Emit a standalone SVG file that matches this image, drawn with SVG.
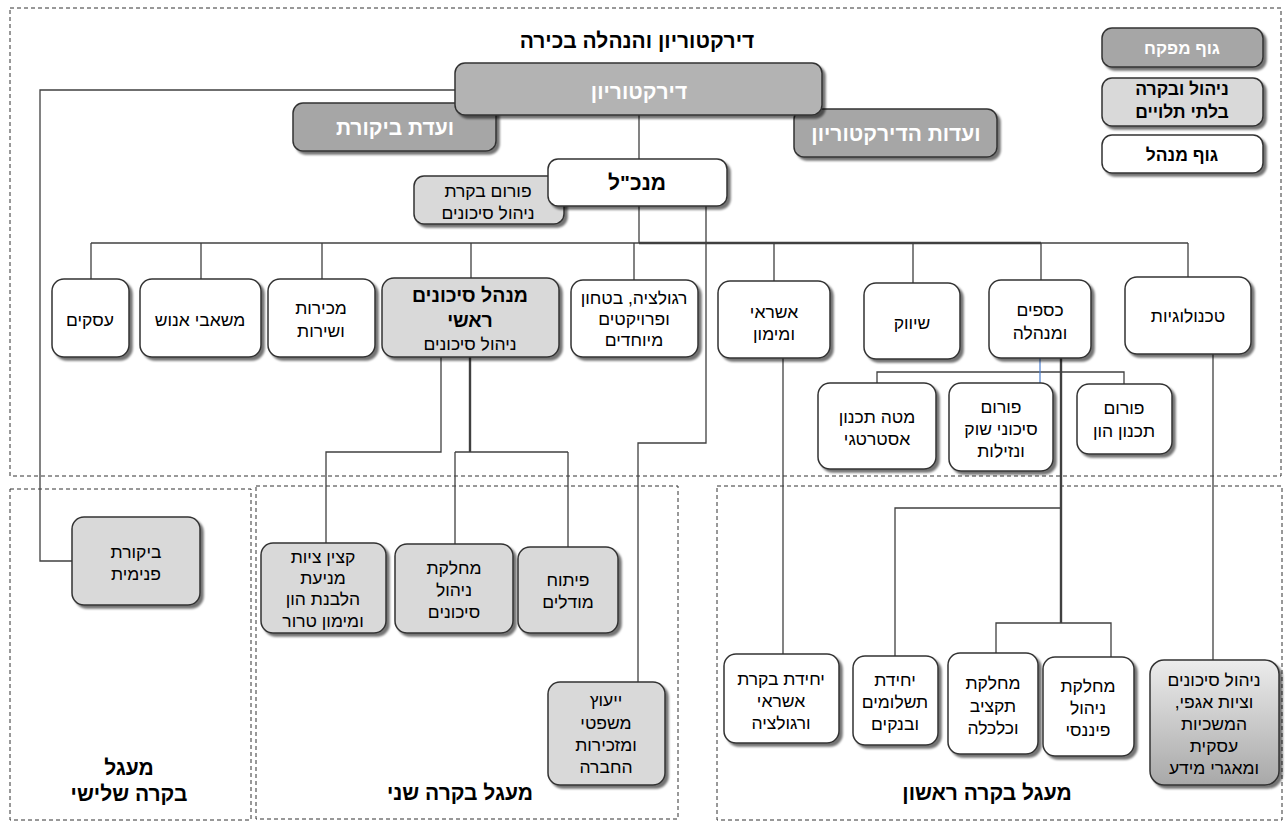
<svg xmlns="http://www.w3.org/2000/svg" width="1286" height="822" viewBox="0 0 1286 822">
<style>
text{font-family:"Liberation Sans",Arial,"Noto Sans",sans-serif;text-anchor:middle;direction:rtl;unicode-bidi:embed;fill:#000;}
.t{font-size:17.5px;}
.b{font-size:21px;font-weight:bold;}
.bs{font-size:19.5px;font-weight:bold;}
.bw{font-size:21px;font-weight:bold;fill:#fff;}
.lg{font-size:17.5px;font-weight:bold;}
.lgw{font-size:17px;font-weight:bold;fill:#fff;}
.area{fill:none;stroke:#333;stroke-width:1;stroke-dasharray:4 3;}
.box{stroke:#333;stroke-width:1.5;filter:url(#sh);}
.wh{fill:#fff;}
.lt{fill:#d9d9d9;}
.dk{fill:#a6a6a6;}
.dk2{fill:#b3b3b3;}
.gr{fill:url(#grad);}
.c{fill:none;stroke:#404040;stroke-width:1.3;}
.ck{fill:none;stroke:#404040;stroke-width:2.4;}
.cb{fill:none;stroke:#4a7fd0;stroke-width:1.2;}
</style>
<defs>
<filter id="sh" x="-10%" y="-10%" width="130%" height="130%">
<feDropShadow dx="3" dy="3" stdDeviation="1.2" flood-color="#000" flood-opacity="0.55"/>
</filter>
<linearGradient id="grad" x1="0" y1="0" x2="0" y2="1">
<stop offset="0" stop-color="#ececec"/>
<stop offset="1" stop-color="#a8a8a8"/>
</linearGradient>
</defs>
<rect width="1286" height="822" fill="#fff"/>

<g id="areas">
<rect class="area" x="10" y="8" width="1271" height="468"/>
<rect class="area" x="10" y="489" width="241" height="331"/>
<rect class="area" x="256" y="486" width="422" height="333"/>
<rect class="area" x="717" y="486" width="565" height="334"/>
<text class="b" x="637" y="48">דירקטוריון והנהלה בכירה</text>
<text class="b" x="129" y="775">מעגל</text>
<text class="b" x="129" y="801">בקרה שלישי</text>
<text class="b" x="460" y="800">מעגל בקרה שני</text>
<text class="b" x="987" y="800">מעגל בקרה ראשון</text>
</g>

<g id="connectors">
<path class="c" d="M639 115 V159"/>
<path class="c" d="M639 206 V243"/>
<path class="c" d="M91 243 H1188"/>
<path class="ck" d="M639 243 H1041"/>
<path class="c" d="M91 243 V279 M201 243 V279 M322 243 V279 M471 243 V278 M634 243 V280 M774 243 V281 M913 243 V283 M1041 243 V280 M1188 243 V277"/>
<path class="c" d="M455 90 H40 V561 H72"/>
<path class="c" d="M706 206 V443 H638 V682"/>
<path class="c" d="M441 357 V452 H326 V543"/>
<path class="ck" d="M470 357 V452"/>
<path class="c" d="M455 452 H568 M455 452 V544 M568 452 V547"/>
<path class="c" d="M783 358 V654"/>
<path class="c" d="M877 383 V372 H1124 V384"/>
<path class="cb" d="M1040 358 V383"/>
<path class="ck" d="M1061 358 V623"/>
<path class="c" d="M1061 508 H895 V656"/>
<path class="c" d="M996 653 V623 H1111 V657"/>
<path class="c" d="M1213 354 V660"/>
</g>

<g id="legend-supervisory">
<rect class="box dk" x="1102" y="28" width="161" height="39" rx="10"/>
<text class="lgw" x="1182" y="54">גוף מפקח</text>
</g>
<g id="legend-independent">
<rect class="box lt" x="1102" y="78" width="161" height="48" rx="10"/>
<text class="lg" x="1182" y="95">ניהול ובקרה</text>
<text class="lg" x="1182" y="118">בלתי תלויים</text>
</g>
<g id="legend-managing">
<rect class="box wh" x="1102" y="135" width="161" height="38" rx="10"/>
<text class="lg" x="1182" y="161">גוף מנהל</text>
</g>

<g id="audit-committee">
<rect class="box dk" x="293" y="103" width="203" height="48" rx="10"/>
<text class="bw" x="395" y="135">ועדת ביקורת</text>
</g>
<g id="board-committees">
<rect class="box dk" x="794" y="109" width="203" height="48" rx="10"/>
<text class="bw" x="896" y="141">ועדות הדירקטוריון</text>
</g>
<g id="board">
<rect class="box dk2" x="455" y="63" width="367" height="52" rx="10"/>
<text class="bw" x="639" y="99">דירקטוריון</text>
</g>
<g id="risk-forum">
<rect class="box lt" x="414" y="176" width="150" height="48" rx="10"/>
<text class="t" x="488" y="197">פורום בקרת</text>
<text class="t" x="488" y="219">ניהול סיכונים</text>
</g>
<g id="ceo">
<rect class="box wh" x="548" y="159" width="179" height="47" rx="10"/>
<text class="b" x="637" y="190">מנכ"ל</text>
</g>

<g id="business">
<rect class="box wh" x="52" y="279" width="77" height="78" rx="12"/>
<text class="t" x="90" y="326">עסקים</text>
</g>
<g id="hr">
<rect class="box wh" x="140" y="279" width="121" height="78" rx="12"/>
<text class="t" x="200" y="326">משאבי אנוש</text>
</g>
<g id="sales">
<rect class="box wh" x="268" y="279" width="107" height="78" rx="12"/>
<text class="t" x="321" y="314">מכירות</text>
<text class="t" x="321" y="337">ושירות</text>
</g>
<g id="cro">
<rect class="box lt" x="382" y="278" width="177" height="79" rx="12"/>
<text class="bs" x="470" y="302">מנהל סיכונים</text>
<text class="bs" x="470" y="327">ראשי</text>
<text class="t" x="470" y="350">ניהול סיכונים</text>
</g>
<g id="regulation">
<rect class="box wh" x="571" y="280" width="127" height="77" rx="12"/>
<text class="t" x="634" y="304">רגולציה, בטחון</text>
<text class="t" x="634" y="325">ופרויקטים</text>
<text class="t" x="634" y="346">מיוחדים</text>
</g>
<g id="credit">
<rect class="box wh" x="718" y="281" width="112" height="77" rx="12"/>
<text class="t" x="774" y="318">אשראי</text>
<text class="t" x="774" y="340">ומימון</text>
</g>
<g id="marketing">
<rect class="box wh" x="864" y="283" width="96" height="76" rx="12"/>
<text class="t" x="912" y="329">שיווק</text>
</g>
<g id="finance">
<rect class="box wh" x="989" y="280" width="102" height="78" rx="12"/>
<text class="t" x="1040" y="316">כספים</text>
<text class="t" x="1040" y="339">ומנהלה</text>
</g>
<g id="technology">
<rect class="box wh" x="1125" y="277" width="126" height="77" rx="12"/>
<text class="t" x="1188" y="322">טכנולוגיות</text>
</g>

<g id="strategy">
<rect class="box wh" x="818" y="383" width="118" height="86" rx="12"/>
<text class="t" x="877" y="423">מטה תכנון</text>
<text class="t" x="877" y="445">אסטרטגי</text>
</g>
<g id="market-risk-forum">
<rect class="box wh" x="949" y="383" width="104" height="88" rx="12"/>
<text class="t" x="1001" y="413">פורום</text>
<text class="t" x="1001" y="435">סיכוני שוק</text>
<text class="t" x="1001" y="457">ונזילות</text>
</g>
<g id="capital-forum">
<rect class="box wh" x="1077" y="384" width="95" height="70" rx="12"/>
<text class="t" x="1124" y="414">פורום</text>
<text class="t" x="1124" y="437">תכנון הון</text>
</g>

<g id="internal-audit">
<rect class="box lt" x="72" y="517" width="128" height="88" rx="12"/>
<text class="t" x="136" y="558">ביקורת</text>
<text class="t" x="136" y="580">פנימית</text>
</g>
<g id="compliance">
<rect class="box lt" x="261" y="543" width="125" height="90" rx="12"/>
<text class="t" x="323" y="563">קצין ציות</text>
<text class="t" x="323" y="584">מניעת</text>
<text class="t" x="323" y="605">הלבנת הון</text>
<text class="t" x="323" y="627">ומימון טרור</text>
</g>
<g id="risk-dept">
<rect class="box lt" x="395" y="544" width="118" height="89" rx="12"/>
<text class="t" x="454" y="574">מחלקת</text>
<text class="t" x="454" y="596">ניהול</text>
<text class="t" x="454" y="618">סיכונים</text>
</g>
<g id="models">
<rect class="box lt" x="518" y="547" width="100" height="86" rx="12"/>
<text class="t" x="568" y="586">פיתוח</text>
<text class="t" x="568" y="608">מודלים</text>
</g>
<g id="legal">
<rect class="box lt" x="548" y="682" width="117" height="103" rx="12"/>
<text class="t" x="606" y="706">ייעוץ</text>
<text class="t" x="606" y="729">משפטי</text>
<text class="t" x="606" y="751">ומזכירות</text>
<text class="t" x="606" y="773">החברה</text>
</g>

<g id="credit-control">
<rect class="box wh" x="724" y="654" width="115" height="89" rx="12"/>
<text class="t" x="781" y="685">יחידת בקרת</text>
<text class="t" x="781" y="707">אשראי</text>
<text class="t" x="781" y="729">ורגולציה</text>
</g>
<g id="payments">
<rect class="box wh" x="853" y="656" width="85" height="89" rx="12"/>
<text class="t" x="895" y="686">יחידת</text>
<text class="t" x="895" y="708">תשלומים</text>
<text class="t" x="895" y="730">ובנקים</text>
</g>
<g id="budget">
<rect class="box wh" x="948" y="653" width="90" height="101" rx="12"/>
<text class="t" x="993" y="689">מחלקת</text>
<text class="t" x="993" y="712">תקציב</text>
<text class="t" x="993" y="734">וכלכלה</text>
</g>
<g id="fin-mgmt">
<rect class="box wh" x="1043" y="657" width="91" height="99" rx="12"/>
<text class="t" x="1088" y="692">מחלקת</text>
<text class="t" x="1088" y="714">ניהול</text>
<text class="t" x="1088" y="736">פיננסי</text>
</g>
<g id="div-risk">
<rect class="box gr" x="1150" y="660" width="129" height="125" rx="14"/>
<text class="t" x="1214" y="686">ניהול סיכונים</text>
<text class="t" x="1214" y="708">וציות אגפי,</text>
<text class="t" x="1214" y="730">המשכיות</text>
<text class="t" x="1214" y="752">עסקית</text>
<text class="t" x="1214" y="774">ומאגרי מידע</text>
</g>
</svg>
